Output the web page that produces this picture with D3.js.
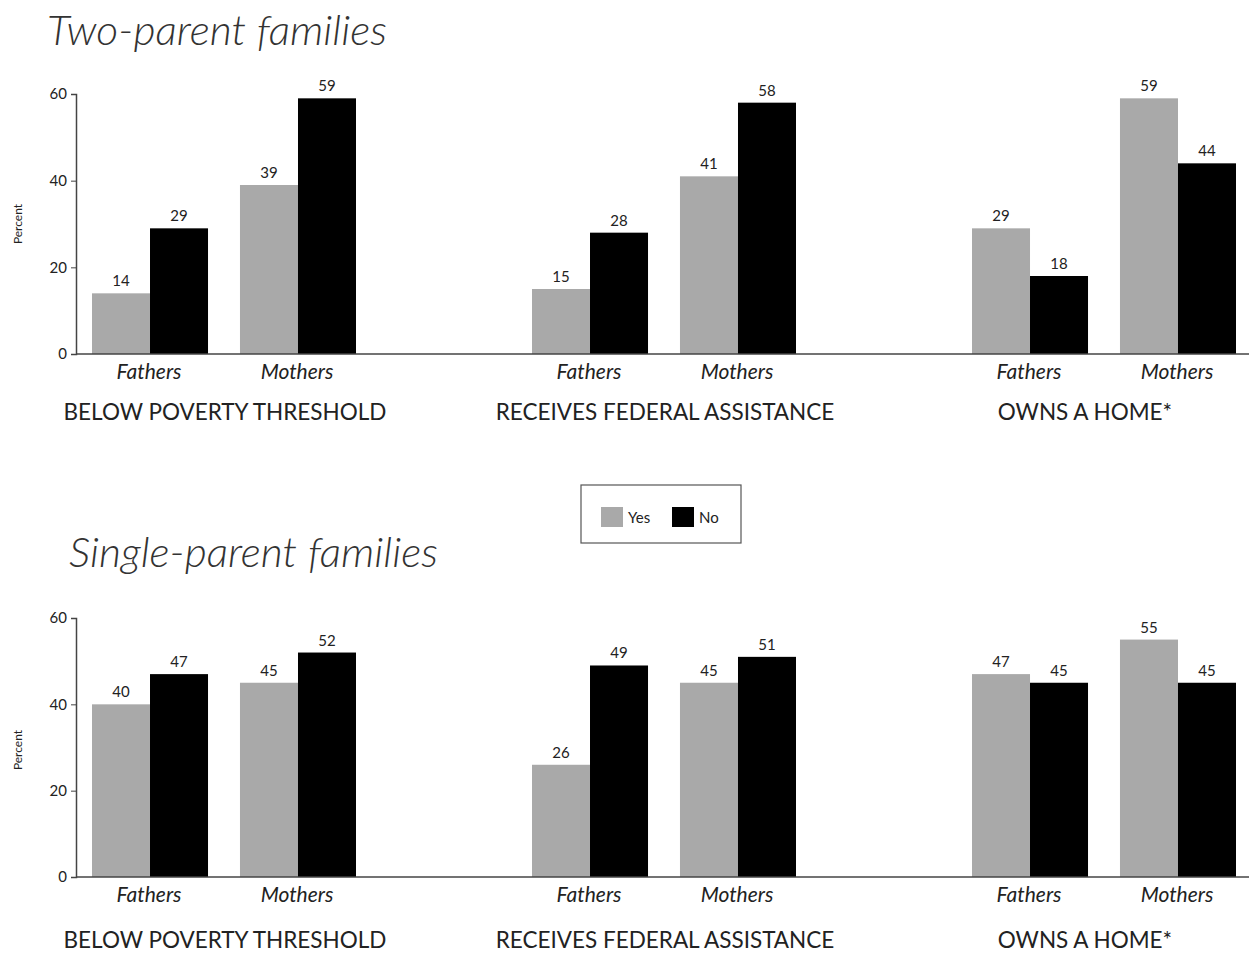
<!DOCTYPE html>
<html>
<head>
<meta charset="utf-8">
<script src="https://cdn.jsdelivr.net/npm/d3@7"></script>
<style>
  html, body { margin: 0; padding: 0; background: #fff; }
  svg { display: block; }
  text { font-family: "Lato", "Open Sans", sans-serif; fill: #222; }
</style>
</head>
<body>
<svg id="chart" width="1249" height="954"></svg>
<script>
// ---- data ----
const groups = ["BELOW POVERTY THRESHOLD", "RECEIVES FEDERAL ASSISTANCE", "OWNS A HOME*"];
const parents = ["Fathers", "Mothers"];
const series = ["Yes", "No"];
const yTicks = [0, 20, 40, 60];
// values ordered: group -> parent -> [Yes, No]
const twoParentYes = [14, 39, 15, 41, 29, 59];
const twoParentNo  = [29, 59, 28, 58, 18, 44];
const singleParentYes = [40, 45, 26, 45, 47, 55];
const singleParentNo  = [47, 52, 49, 51, 45, 45];
const panelTitles = ["Two-parent families", "Single-parent families"];
const colors = { Yes: "#a9a9a9", No: "#000000" };

function buildRows(yesArr, noArr) {
  const rows = [];
  groups.forEach((g, gi) => parents.forEach((p, pi) => {
    const i = gi * parents.length + pi;
    rows.push({ group: g, parent: p, Yes: yesArr[i], No: noArr[i] });
  }));
  return rows;
}

const svg = d3.select("#chart");

const x0 = d3.scalePoint().domain(groups).range([224, 1104]);
const x1 = d3.scaleBand().domain(parents).range([-132, 132]).paddingInner(0.216).paddingOuter(0);
const x2 = d3.scaleBand().domain(series).range([0, x1.bandwidth()]).padding(0);
const groupLabelShift = [1, 1, -19];

const panels = [
  { title: panelTitles[0], rows: buildRows(twoParentYes, twoParentNo), yTop: 94, yBottom: 354,
    titleX: 47, titleY: 45, titleLen: 340, parentDy: 25, groupDy: 66, percentY: 224 },
  { title: panelTitles[1], rows: buildRows(singleParentYes, singleParentNo), yTop: 618, yBottom: 877,
    titleX: 69, titleY: 567, titleLen: 369, parentDy: 25, groupDy: 71, percentY: 750 }
];

const axisX = 76;

panels.forEach(pn => {
  const y = d3.scaleLinear().domain([0, 60]).range([pn.yBottom, pn.yTop]);
  const g = svg.append("g");

  // title
  g.append("text")
    .attr("x", pn.titleX).attr("y", pn.titleY)
    .attr("font-size", 42).attr("font-style", "italic").attr("font-weight", 300)
    .attr("textLength", pn.titleLen).attr("lengthAdjust", "spacingAndGlyphs")
    .style("fill", "#333")
    .text(pn.title);

  // bars
  const rowG = g.selectAll("g.row").data(pn.rows).join("g")
    .attr("transform", d => `translate(${x0(d.group) + x1(d.parent)},0)`);

  rowG.selectAll("rect").data(d => series.map(s => ({ s, v: d[s] }))).join("rect")
    .attr("x", d => x2(d.s))
    .attr("width", x2.bandwidth())
    .attr("y", d => y(d.v))
    .attr("height", d => y(0) - y(d.v))
    .attr("fill", d => colors[d.s]);

  rowG.selectAll("text.val").data(d => series.map(s => ({ s, v: d[s] }))).join("text")
    .attr("class", "val")
    .attr("x", d => x2(d.s) + x2.bandwidth() / 2)
    .attr("y", d => y(d.v) - 7)
    .attr("text-anchor", "middle")
    .attr("font-size", 15)
    .text(d => d.v);

  // parent labels
  rowG.append("text")
    .attr("x", x1.bandwidth() / 2 - 1)
    .attr("y", pn.yBottom + pn.parentDy)
    .attr("text-anchor", "middle")
    .attr("font-size", 21).attr("font-style", "italic")
    .text(d => d.parent);

  // group labels
  g.selectAll("text.grp").data(groups).join("text")
    .attr("class", "grp")
    .attr("x", (d, i) => x0(d) + groupLabelShift[i])
    .attr("y", pn.yBottom + pn.groupDy)
    .attr("text-anchor", "middle")
    .attr("font-size", 22.5)
    .text(d => d);

  // y axis
  const axis = d3.axisLeft(y).tickValues(yTicks).tickSize(5).tickPadding(4);
  const ag = g.append("g").attr("transform", `translate(${axisX},0)`).call(axis);
  ag.select(".domain").attr("stroke", "#444").attr("stroke-width", 1.5);
  ag.selectAll(".tick line").attr("stroke", "#444");
  ag.selectAll(".tick text").attr("font-size", 15).attr("font-family", "Lato, sans-serif").attr("fill", "#333");

  // baseline
  g.append("line")
    .attr("x1", axisX).attr("x2", 1249)
    .attr("y1", y(0)).attr("y2", y(0))
    .attr("stroke", "#444").attr("stroke-width", 1.5);

  // Percent label
  g.append("text")
    .attr("transform", `translate(22,${pn.percentY}) rotate(-90)`)
    .attr("text-anchor", "middle")
    .attr("font-size", 12)
    .text("Percent");
});

// legend
const leg = svg.append("g").attr("transform", "translate(581,485)");
leg.append("rect").attr("width", 160).attr("height", 58)
  .attr("fill", "#fff").attr("stroke", "#555").attr("stroke-width", 1.2);
const legItems = leg.selectAll("g.li").data(series).join("g")
  .attr("transform", (d, i) => `translate(${20 + i * 71},22)`);
legItems.append("rect").attr("width", 22).attr("height", 20).attr("fill", d => colors[d]);
legItems.append("text").attr("x", 27).attr("y", 16).attr("font-size", 15).text(d => d);
</script>
</body>
</html>
